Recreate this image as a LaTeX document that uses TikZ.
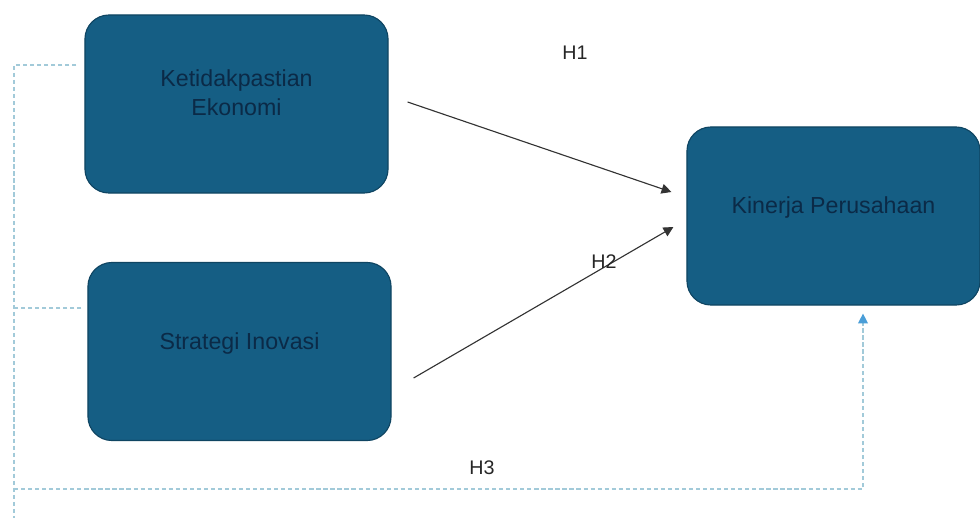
\documentclass[tikz,border=0pt]{standalone}
\usepackage{fontspec}
\setmainfont{Liberation Sans}
\usetikzlibrary{arrows.meta,calc}

\definecolor{boxfill}{HTML}{155E84}
\definecolor{boxline}{HTML}{0F4562}
\definecolor{boxtext}{HTML}{0B2A47}
\definecolor{dashline}{HTML}{A2CAD9}
\definecolor{tipblue}{HTML}{4A9ED8}

\tikzset{
  varbox/.style={draw=boxline, line width=0.8pt, fill=boxfill, rounded corners=0.6cm,
    text=boxtext, align=center, font=\fontsize{16.5pt}{20.6pt}\selectfont,
    minimum height=4.45cm, text height=12pt},
  hlabel/.style={font=\fontsize{14pt}{16pt}\selectfont, text=black!85},
  pathline/.style={draw=black!80, line width=0.8pt, -{Triangle[length=7pt,width=7pt]}},
  moddash/.style={draw=dashline, line width=0.8pt, dash pattern=on 3pt off 2pt}
}

\begin{document}
\begin{tikzpicture}[x=0.025cm, y=-0.025cm]
					\clip (0,0) rectangle (980,520);
					% Variables
					\node[varbox, minimum width=7.575cm, text height=33pt, text depth=17pt] (ke) at (236.5,104) {Ketidakpastian\\Ekonomi};
					\node[varbox, minimum width=7.575cm, text depth=15pt] (si) at (239.5,351.5) {Strategi Inovasi};
					\node[varbox, minimum width=7.325cm, text depth=16pt] (kp) at (833.5,216) {Kinerja Perusahaan};
					
					% Direct paths
					\draw[pathline] ($(ke.east)+(19,-2)$) -- ($(kp.west)+(-15,-24)$);
					\draw[pathline] ($(si.east)+(22,26.5)$) -- ($(kp.west)+(-13,11)$);
					
					% Joint path
					\coordinate (ltop) at (14,65);
					\coordinate (lmid) at (14,308);
					\coordinate (lturn) at (14,489);
					\coordinate (lbot) at (14,518);
					\draw[moddash] ($(ke.west)+(-8,-39)$) -- (ltop) -- (lbot);
					\draw[moddash] ($(si.west)+(-6,-43.5)$) -- (lmid);
					\draw[moddash, -{Triangle[length=7pt,width=7pt,color=tipblue]}] (lturn) -| ($(kp.south)+(29.5,8)$);
					
					% Labels
					\node[hlabel] (h1) at (575,53) {H1};
					\node[hlabel] (h2) at (604,262) {H2};
					\node[hlabel] (h3) at (482,468) {H3};
				\end{tikzpicture}
\end{document}
